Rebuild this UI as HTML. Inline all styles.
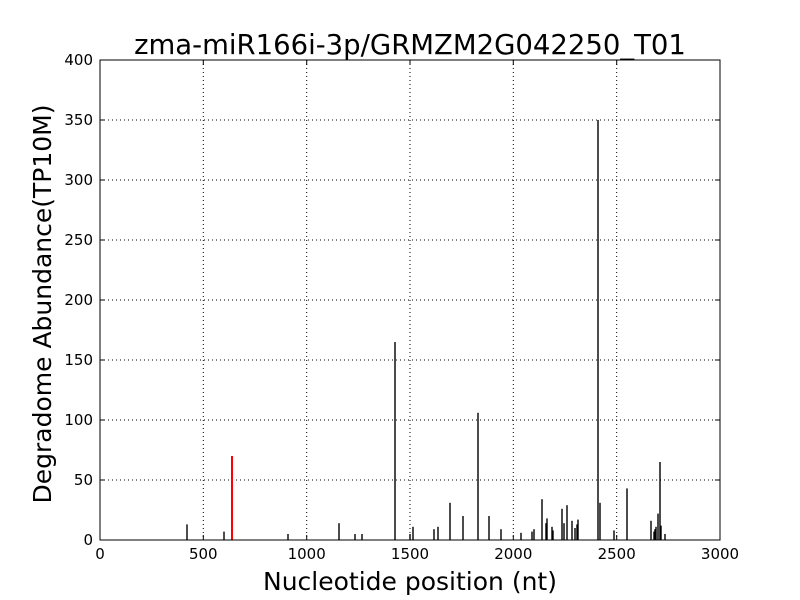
<!DOCTYPE html>
<html><head><style>body{margin:0;background:#fff}svg{display:block}</style></head><body>
<svg width="800" height="600" xmlns="http://www.w3.org/2000/svg" font-family="DejaVu Sans, Liberation Sans, sans-serif">
<rect width="800" height="600" fill="#fff"/>
<g stroke="#000" stroke-dasharray="1,3" stroke-width="1">
<line x1="203.3" y1="60" x2="203.3" y2="540"/><line x1="306.7" y1="60" x2="306.7" y2="540"/><line x1="410" y1="60" x2="410" y2="540"/><line x1="513.3" y1="60" x2="513.3" y2="540"/><line x1="616.7" y1="60" x2="616.7" y2="540"/>
<line x1="100" y1="480" x2="720" y2="480"/><line x1="100" y1="420" x2="720" y2="420"/><line x1="100" y1="360" x2="720" y2="360"/><line x1="100" y1="300" x2="720" y2="300"/><line x1="100" y1="240" x2="720" y2="240"/><line x1="100" y1="180" x2="720" y2="180"/><line x1="100" y1="120" x2="720" y2="120"/>
</g>
<g stroke="#000" stroke-width="1.4">
<line x1="187" y1="540" x2="187" y2="524.4"/><line x1="224" y1="540" x2="224" y2="531.6"/>
<line x1="288" y1="540" x2="288" y2="534"/><line x1="339" y1="540" x2="339" y2="523.2"/>
<line x1="355" y1="540" x2="355" y2="534"/><line x1="362" y1="540" x2="362" y2="534"/>
<line x1="395" y1="540" x2="395" y2="342"/><line x1="410" y1="540" x2="410" y2="534"/>
<line x1="413" y1="540" x2="413" y2="526.8"/><line x1="434" y1="540" x2="434" y2="529.2"/>
<line x1="438" y1="540" x2="438" y2="526.8"/><line x1="450" y1="540" x2="450" y2="502.8"/>
<line x1="463" y1="540" x2="463" y2="516"/><line x1="478" y1="540" x2="478" y2="412.8"/>
<line x1="489" y1="540" x2="489" y2="516"/><line x1="501" y1="540" x2="501" y2="529.2"/>
<line x1="521" y1="540" x2="521" y2="532.8"/><line x1="532" y1="540" x2="532" y2="531.6"/>
<line x1="534" y1="540" x2="534" y2="529.2"/><line x1="542" y1="540" x2="542" y2="499.2"/>
<line x1="546" y1="540" x2="546" y2="523.2"/><line x1="547" y1="540" x2="547" y2="518.4"/>
<line x1="552" y1="540" x2="552" y2="526.8"/><line x1="553" y1="540" x2="553" y2="530.4"/>
<line x1="562" y1="540" x2="562" y2="508.8"/><line x1="564" y1="540" x2="564" y2="523.2"/>
<line x1="567" y1="540" x2="567" y2="505.2"/><line x1="572" y1="540" x2="572" y2="520.8"/>
<line x1="575" y1="540" x2="575" y2="528"/><line x1="577" y1="540" x2="577" y2="524.4"/>
<line x1="578" y1="540" x2="578" y2="519.6"/><line x1="598" y1="540" x2="598" y2="120"/>
<line x1="600" y1="540" x2="600" y2="502.8"/><line x1="614" y1="540" x2="614" y2="530.4"/>
<line x1="627" y1="540" x2="627" y2="488.4"/><line x1="651" y1="540" x2="651" y2="520.8"/>
<line x1="654" y1="540" x2="654" y2="531.6"/><line x1="655" y1="540" x2="655" y2="529.2"/>
<line x1="656" y1="540" x2="656" y2="526.8"/><line x1="658" y1="540" x2="658" y2="513.6"/>
<line x1="660" y1="540" x2="660" y2="462"/><line x1="661" y1="540" x2="661" y2="525.6"/>
<line x1="665" y1="540" x2="665" y2="534"/>
</g>
<line x1="232" y1="540" x2="232" y2="456" stroke="#f00" stroke-width="2"/>
<rect x="100" y="60" width="620" height="480" fill="none" stroke="#000" stroke-width="1"/>
<g stroke="#000" stroke-width="1">
<line x1="203.3" y1="540" x2="203.3" y2="535"/><line x1="306.7" y1="540" x2="306.7" y2="535"/><line x1="410" y1="540" x2="410" y2="535"/><line x1="513.3" y1="540" x2="513.3" y2="535"/><line x1="616.7" y1="540" x2="616.7" y2="535"/>
<line x1="203.3" y1="60" x2="203.3" y2="65"/><line x1="306.7" y1="60" x2="306.7" y2="65"/><line x1="410" y1="60" x2="410" y2="65"/><line x1="513.3" y1="60" x2="513.3" y2="65"/><line x1="616.7" y1="60" x2="616.7" y2="65"/>
<line x1="100" y1="480" x2="105" y2="480"/><line x1="100" y1="420" x2="105" y2="420"/><line x1="100" y1="360" x2="105" y2="360"/><line x1="100" y1="300" x2="105" y2="300"/><line x1="100" y1="240" x2="105" y2="240"/><line x1="100" y1="180" x2="105" y2="180"/><line x1="100" y1="120" x2="105" y2="120"/>
<line x1="720" y1="480" x2="715" y2="480"/><line x1="720" y1="420" x2="715" y2="420"/><line x1="720" y1="360" x2="715" y2="360"/><line x1="720" y1="300" x2="715" y2="300"/><line x1="720" y1="240" x2="715" y2="240"/><line x1="720" y1="180" x2="715" y2="180"/><line x1="720" y1="120" x2="715" y2="120"/>
</g>
<g font-size="15" text-anchor="middle">
<text x="100" y="559">0</text><text x="203.3" y="559">500</text><text x="306.7" y="559">1000</text><text x="410" y="559">1500</text><text x="513.3" y="559">2000</text><text x="616.7" y="559">2500</text><text x="720" y="559">3000</text>
</g>
<g font-size="15" text-anchor="end">
<text x="93" y="545">0</text><text x="93" y="485">50</text><text x="93" y="425">100</text><text x="93" y="365">150</text><text x="93" y="305">200</text><text x="93" y="245">250</text><text x="93" y="185">300</text><text x="93" y="125">350</text><text x="93" y="65">400</text>
</g>
<text x="410" y="54" font-size="27.5" text-anchor="middle">zma-miR166i-3p/GRMZM2G042250_T01</text>
<text x="410" y="590" font-size="25" text-anchor="middle">Nucleotide position (nt)</text>
<text transform="translate(51,304) rotate(-90)" font-size="25" text-anchor="middle">Degradome Abundance(TP10M)</text>
</svg>
</body></html>
